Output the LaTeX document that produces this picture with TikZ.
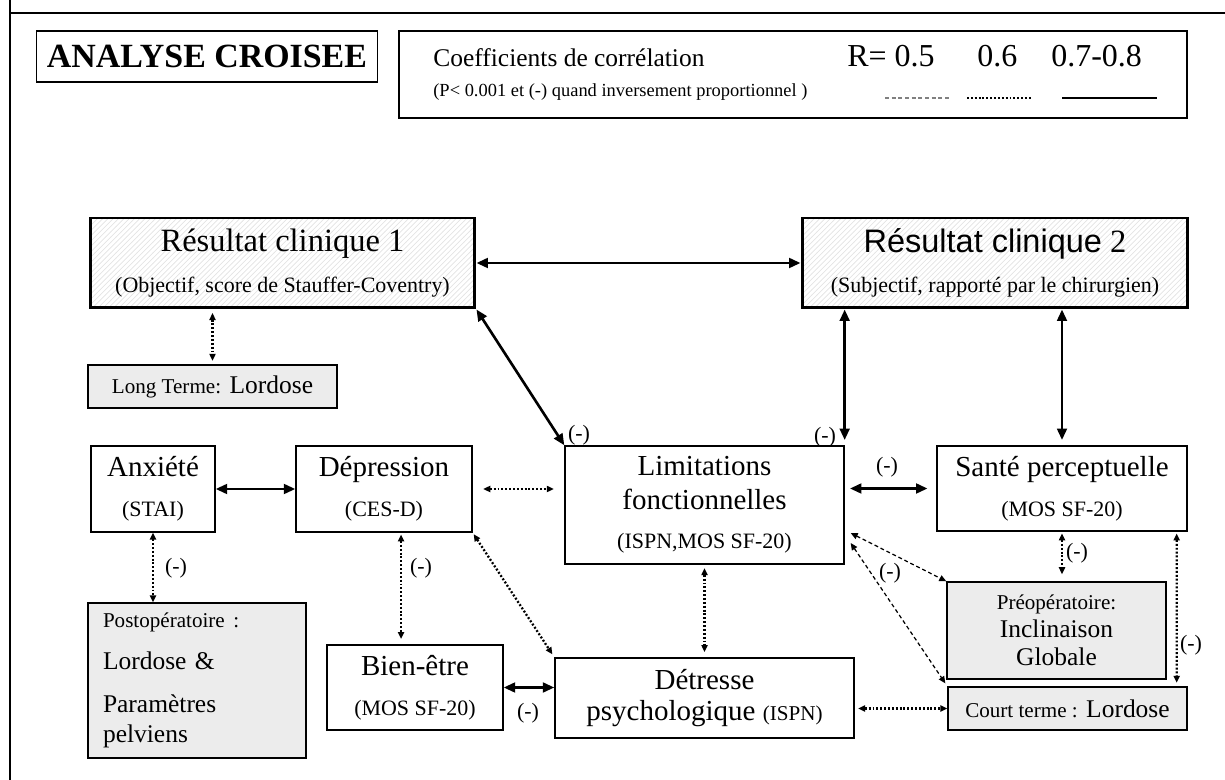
\documentclass[tikz,border=0pt]{standalone}
\usepackage{fontspec}
\setmainfont{Liberation Serif}
\newfontfamily\arialfont{Liberation Sans}
\usetikzlibrary{positioning, arrows.meta, calc, patterns}
\newcommand{\subtxt}{\fontsize{12.5}{14}\selectfont}
\newcommand{\tagtxt}{\fontsize{12}{14}\selectfont}
\tikzset{
  box/.style={draw, line width=0.8pt, rectangle, align=center, inner sep=2pt},
  result/.style={box, line width=1.7pt, pattern=north east lines, pattern color=gray!22, minimum width=7.7cm, minimum height=1.8cm, font=\fontsize{18.5}{21}\selectfont},
  var/.style={box, font=\fontsize{16.5}{19}\selectfont},
  greybox/.style={box, fill=gray!15, font=\fontsize{14.5}{19}\selectfont},
  bigtip/.style={{Triangle[length=6.5pt,width=5.5pt]}-{Triangle[length=6.5pt,width=5.5pt]}},
  smalltip/.style={{Triangle[length=4pt,width=3.5pt]}-{Triangle[length=4pt,width=3.5pt]}},
  solidline/.style={line width=1.5pt},
  dotline/.style={line width=1.3pt, dash pattern=on 1.1pt off 1.1pt},
  dashline/.style={line width=0.7pt, dash pattern=on 2.2pt off 1.6pt},
  strong/.style={solidline, bigtip},
  medium/.style={dotline, smalltip},
  weak/.style={dashline, smalltip},
  neg/.style={inner sep=0pt, font=\fontsize{12.5}{14}\selectfont},
  legtxt/.style={anchor=base west, inner sep=0pt}
}

\begin{document}
\begin{tikzpicture}[x=0.02cm, y=-0.02cm]
  \useasboundingbox (0,0) rectangle (1225,780);

  % frame of the page
  \draw[line width=1.6pt] (10,13) -- (1225,13);
  \draw[line width=0.8pt] (10,0) -- (10,780);

  % title and legend
  \node[box, line width=0.6pt, minimum width=6.84cm, minimum height=1.02cm, font=\fontsize{19.3}{21}\selectfont\bfseries] (title) at (207,56.5) {ANALYSE CROISEE};
  \node[box, minimum width=15.76cm, minimum height=1.74cm] (legend) at (793,74.5) {};
  \node[legtxt, font=\fontsize{14.5}{16}\selectfont] (coef) at (433,67) {Coefficients de corrélation};
  \node[legtxt, font=\fontsize{10.5}{12}\selectfont] (pval) at (433,97) {(P< 0.001 et (-) quand inversement proportionnel )};
  \node[legtxt, font=\fontsize{18.2}{20}\selectfont] (r5) at (847,67) {R=~0.5};
  \node[legtxt, font=\fontsize{18.2}{20}\selectfont] (r6) at (977,67) {0.6};
  \node[legtxt, font=\fontsize{18.2}{20}\selectfont] (r78) at (1051,67) {0.7-0.8};
  \coordinate (l5a) at (885,98);
  \coordinate (l5b) at (950,98);
  \coordinate (l6a) at (967,98);
  \coordinate (l6b) at (1032,98);
  \coordinate (l7a) at (1062,98);
  \coordinate (l7b) at (1157,98);
  \draw[dashline, gray] (l5a) -- (l5b);
  \draw[dotline] (l6a) -- (l6b);
  \draw[line width=1.7pt] (l7a) -- (l7b);

  % clinical results
  \node[result] (res1) at (282.5,263) {Résultat clinique 1\\[2pt]{\subtxt (Objectif, score de Stauffer-Coventry)}};
  \node[result, minimum width=7.72cm] (res2) at (995,263) {{\arialfont Résultat clinique} 2\\[2pt]{\subtxt (Subjectif, rapporté par le chirurgien)}};
  \node[greybox, minimum width=4.98cm, minimum height=0.86cm] (longt) at (212.5,386.5) {{\tagtxt Long Terme:} Lordose};

  % psychological and functional variables
  \node[var, minimum width=2.48cm, minimum height=1.72cm] (anx) at (153,489) {Anxiété\\[3.5pt]{\subtxt (STAI)}};
  \node[var, minimum width=3.52cm, minimum height=1.72cm] (dep) at (384,489) {Dépression\\[3.5pt]{\subtxt (CES-D)}};
  \node[var, minimum width=5.58cm, minimum height=2.36cm] (lim) at (704.5,505) {Limitations\\fonctionnelles\\[3.5pt]{\subtxt (ISPN,MOS SF-20)}};
  \node[var, minimum width=5.0cm, minimum height=1.70cm] (sante) at (1062,488.5) {Santé perceptuelle\\[3.5pt]{\subtxt (MOS SF-20)}};
  \node[var, minimum width=3.52cm, minimum height=1.70cm] (bien) at (415,687.5) {Bien-être\\[3.5pt]{\subtxt (MOS SF-20)}};
  \node[var, minimum width=5.98cm, minimum height=1.60cm] (det) at (704.5,698) {Détresse\\[-1.4pt]psychologique {\tagtxt (ISPN)}};

  % radiological parameters
  \node[greybox, minimum width=4.36cm, minimum height=3.1cm, text width=3.76cm, inner xsep=0.3cm, align=left] (postop) at (197,680.5) {{\tagtxt Postopératoire :}\\[5pt]Lordose \&\\[5.5pt]Paramètres\\[-2pt]pelviens};
  \node[greybox, minimum width=4.38cm, minimum height=1.94cm] (preop) at (1056.5,630.5) {{\tagtxt Préopératoire:}\\[-3pt]Inclinaison\\[-3pt]Globale};
  \node[greybox, minimum width=4.78cm, minimum height=0.86cm] (court) at (1067.5,708.5) {{\tagtxt Court terme :} Lordose};
  \coordinate (dbtop) at ($(dep.south)!0.55!(dep.south -| bien.north)$);

  % strong correlations
  \draw[strong] (res1.east) -- (res2.west);
  \draw[strong] (res1.south east) -- (lim.north west);
  \draw[strong, shorten >=3pt] (lim.north east |- res2.south) -- (lim.north east);
  \draw[strong, shorten >=3pt] (sante.north |- res2.south) -- (sante.north);
  \draw[strong] (anx.east) -- (dep.west);
  \draw[strong, shorten <=3pt, shorten >=5pt] (lim.east |- sante.west) -- (sante.west);
  \draw[strong] (bien.east) -- (bien.east -| det.west);

  % medium correlations
  \draw[medium, shorten <=2pt, shorten >=2pt] (res1.south -| longt.north) -- (longt.north);
  \draw[medium] (anx.south) -- (anx.south |- postop.north);
  \draw[medium, shorten <=6pt, shorten >=6pt] (dep.east) -- (dep.east -| lim.west);
  \draw[medium, shorten <=1pt, shorten >=3pt] (dbtop) -- (dbtop |- bien.north);
  \draw[medium, shorten <=1pt, shorten >=2pt] (dep.south east) -- (det.north west);
  \draw[medium, shorten <=2pt, shorten >=3pt] (lim.south) -- (det.north);
  \draw[medium, shorten <=2pt] (det.east |- court.west) -- (court.west);
  \draw[medium, shorten <=1pt, shorten >=4pt] (sante.south) -- (sante.south |- preop.north);
  \draw[medium, shorten <=1pt, shorten >=2pt] ($(sante.south east)+(-11,0)$) -- ($(court.north east)+(-11,0)$);

  % weak correlations
  \draw[weak] ($(lim.east)+(6,28)$) -- (preop.north west);
  \draw[weak, shorten >=2pt] ($(lim.east)+(6,38)$) -- (court.north west);

  % inverse relations
  \node[neg] (m1) at (579,435) {(-)};
  \node[neg] (m2) at (825,437) {(-)};
  \node[neg] (m3) at (887,467) {(-)};
  \node[neg] (m4) at (176,568) {(-)};
  \node[neg] (m5) at (421,568) {(-)};
  \node[neg] (m6) at (528,713) {(-)};
  \node[neg] (m7) at (890,573) {(-)};
  \node[neg] (m8) at (1077,553) {(-)};
  \node[neg] (m9) at (1191,645) {(-)};
\end{tikzpicture}
\end{document}
